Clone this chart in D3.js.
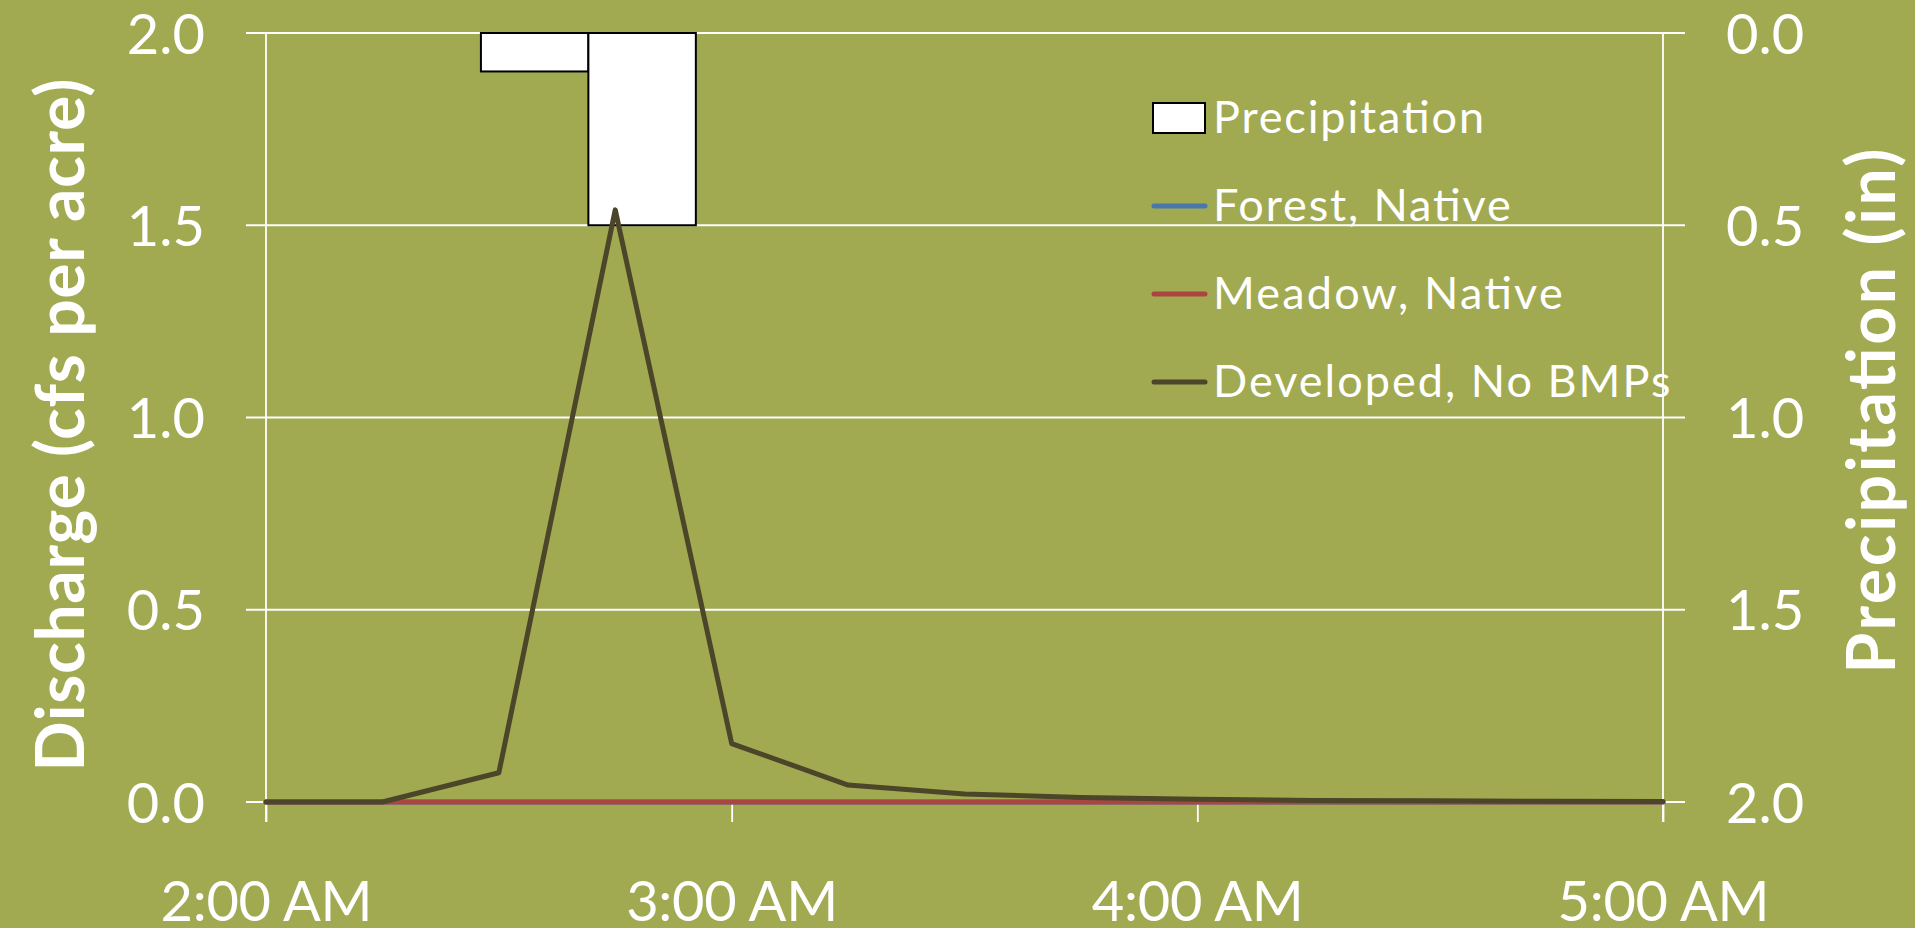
<!DOCTYPE html>
<html>
<head>
<meta charset="utf-8">
<script src="https://cdn.jsdelivr.net/npm/d3@7"></script>
<style>
  html, body { margin: 0; padding: 0; background: #A1AA51; }
  svg { display: block; }
  text { font-family: Lato, "Open Sans", sans-serif; fill: #ffffff; }
</style>
</head>
<body>
<svg id="chart" width="1915" height="928"></svg>
<script>
// 15-minute time steps of the storm hydrograph
const timeSteps = ["2:00","2:15","2:30","2:45","3:00","3:15","3:30","3:45","4:00","4:15","4:30","4:45","5:00"];

// Rainfall depth per interval (in)
const precipitation = [0, 0, 0.1, 0.5, 0, 0, 0, 0, 0, 0, 0, 0, 0];

// Runoff per land cover (cfs per acre)
const forestNative   = [0, 0, 0, 0, 0, 0, 0, 0, 0, 0, 0, 0, 0];
const meadowNative   = [0, 0, 0, 0, 0, 0, 0, 0, 0, 0, 0, 0, 0];
const developedNoBMP = [0, 0, 0.076, 1.54, 0.152, 0.044, 0.021, 0.012, 0.007, 0.004, 0.003, 0.002, 0.001];

// Axis ticks
const dischargeTicks = [0, 0.5, 1.0, 1.5, 2.0];
const precipTicks    = [0, 0.5, 1.0, 1.5, 2.0];
const hourTicks      = ["2:00","3:00","4:00","5:00"];

const seriesNames  = ["Precipitation", "Forest, Native", "Meadow, Native", "Developed, No BMPs"];
const seriesColors = ["#ffffff", "#4A76AE", "#AA4542", "#4B4529"];

// ---- layout ----
const W = 1915, H = 928;
const plot = { left: 266, right: 1663, top: 33, bottom: 802 };
const tickLen = 20;
const white = "#ffffff";

const toDate = s => { const [h, m] = s.split(":").map(Number); return new Date(2000, 0, 1, h, m); };

// widen a text run by spreading its glyphs (keeps glyph height unchanged)
function spread(sel, factor) {
  sel.each(function () {
    const len = this.getComputedTextLength();
    d3.select(this).attr("textLength", len * factor).attr("lengthAdjust", "spacing");
  });
}
function spreadTo(sel, target) {
  sel.each(function () {
    d3.select(this).attr("textLength", target).attr("lengthAdjust", "spacing");
  });
}

const svg = d3.select("#chart");

const x = d3.scaleTime()
  .domain([toDate(timeSteps[0]), toDate(timeSteps[timeSteps.length - 1])])
  .range([plot.left, plot.right]);

const yLeft = d3.scaleLinear().domain([0, 2]).range([plot.bottom, plot.top]);
const yRight = d3.scaleLinear().domain([0, 2]).range([plot.top, plot.bottom]); // reversed: rain hangs from the top

const xBand = d3.scaleBand().domain(timeSteps).range([plot.left, plot.right]).padding(0);

// ---- horizontal gridlines (extend over both outer tick marks) ----
svg.append("g").selectAll("line")
  .data(dischargeTicks)
  .join("line")
  .attr("x1", plot.left - tickLen)
  .attr("x2", plot.right + tickLen + 2)
  .attr("y1", d => yLeft(d))
  .attr("y2", d => yLeft(d))
  .attr("stroke", white)
  .attr("stroke-width", 1.8);

// ---- left axis ----
const leftAxis = svg.append("g")
  .attr("transform", `translate(${plot.left},0)`)
  .call(d3.axisLeft(yLeft).tickValues(dischargeTicks).tickSize(0).tickPadding(61)
    .tickFormat(d3.format(".1f")));
leftAxis.select(".domain").remove();
leftAxis.selectAll("text")
  .style("fill", white)
  .attr("font-size", 56).attr("font-family", "Lato").attr("dy", "0.36em");

// ---- right axis ----
const rightAxis = svg.append("g")
  .attr("transform", `translate(${plot.right},0)`)
  .call(d3.axisRight(yRight).tickValues(precipTicks).tickSize(0).tickPadding(63)
    .tickFormat(d3.format(".1f")));
rightAxis.select(".domain").remove();
rightAxis.selectAll("text")
  .style("fill", white)
  .attr("font-size", 56).attr("font-family", "Lato").attr("dy", "0.36em");

// vertical axis lines, running down to the end of the time ticks
svg.append("g").selectAll("line")
  .data([plot.left, plot.right])
  .join("line")
  .attr("x1", d => d).attr("x2", d => d)
  .attr("y1", plot.top).attr("y2", plot.bottom + tickLen)
  .attr("stroke", white).attr("stroke-width", 1.8);

// ---- time axis ----
const bottomAxis = svg.append("g")
  .attr("transform", `translate(0,${plot.bottom})`)
  .call(d3.axisBottom(x).tickValues(hourTicks.map(toDate)).tickSizeInner(tickLen).tickSizeOuter(0)
    .tickPadding(99).tickFormat(d3.timeFormat("%-I:%M %p")));
bottomAxis.select(".domain").attr("stroke", white).attr("stroke-width", 1.8);
bottomAxis.selectAll(".tick line").attr("stroke", white).attr("stroke-width", 1.8);
bottomAxis.selectAll("text")
  .style("fill", white)
  .attr("font-size", 56).attr("font-family", "Lato").attr("dy", "0");
spreadTo(bottomAxis.selectAll("text"), 212);

// ---- precipitation bars (secondary axis) ----
svg.append("g").selectAll("rect")
  .data(timeSteps.map((t, i) => ({ t, v: precipitation[i] })).filter(d => d.v > 0))
  .join("rect")
  .attr("x", d => xBand(d.t))
  .attr("y", yRight(0))
  .attr("width", xBand.bandwidth())
  .attr("height", d => yRight(d.v) - yRight(0))
  .attr("fill", "#ffffff")
  .attr("stroke", "#000000")
  .attr("stroke-width", 2);

// ---- discharge lines ----
const line = d3.line()
  .x((d, i) => x(toDate(timeSteps[i])))
  .y(d => yLeft(d));

[forestNative, meadowNative, developedNoBMP].forEach((vals, k) => {
  svg.append("path")
    .datum(vals)
    .attr("d", line)
    .attr("fill", "none")
    .attr("stroke", seriesColors[k + 1])
    .attr("stroke-width", 5)
    .attr("stroke-linejoin", "round")
    .attr("stroke-linecap", "round");
});

// ---- legend ----
const legend = svg.append("g").attr("transform", "translate(1152,0)");
const legendBaselines = [133, 221, 309, 397];
seriesNames.forEach((name, i) => {
  const by = legendBaselines[i];
  if (i === 0) {
    legend.append("rect")
      .attr("x", 1).attr("y", by - 30).attr("width", 52).attr("height", 30)
      .attr("fill", "#ffffff").attr("stroke", "#000000").attr("stroke-width", 2);
  } else {
    legend.append("line")
      .attr("x1", 2).attr("x2", 53).attr("y1", by - 15).attr("y2", by - 15)
      .attr("stroke", seriesColors[i]).attr("stroke-width", 5).attr("stroke-linecap", "round");
  }
  legend.append("text")
    .attr("class", "legend-label")
    .attr("x", 61).attr("y", by)
    .attr("font-size", 45)
    .text(name);
});
// stretch all legend labels by the same factor, set from the first entry
const legendLabels = legend.selectAll(".legend-label");
const firstLen = legendLabels.node().getComputedTextLength();
spread(legendLabels, 271 / firstLen);

// ---- axis titles ----
const titleLeft = svg.append("text")
  .attr("transform", "translate(84,425) rotate(-90)")
  .attr("text-anchor", "middle")
  .attr("font-size", 66).attr("font-weight", 700)
  .text("Discharge (cfs per acre)");
spreadTo(titleLeft, 693);

const titleRight = svg.append("text")
  .attr("transform", "translate(1895,411) rotate(-90)")
  .attr("text-anchor", "middle")
  .attr("font-size", 66).attr("font-weight", 700)
  .text("Precipitation (in)");
spreadTo(titleRight, 525);
</script>
</body>
</html>
